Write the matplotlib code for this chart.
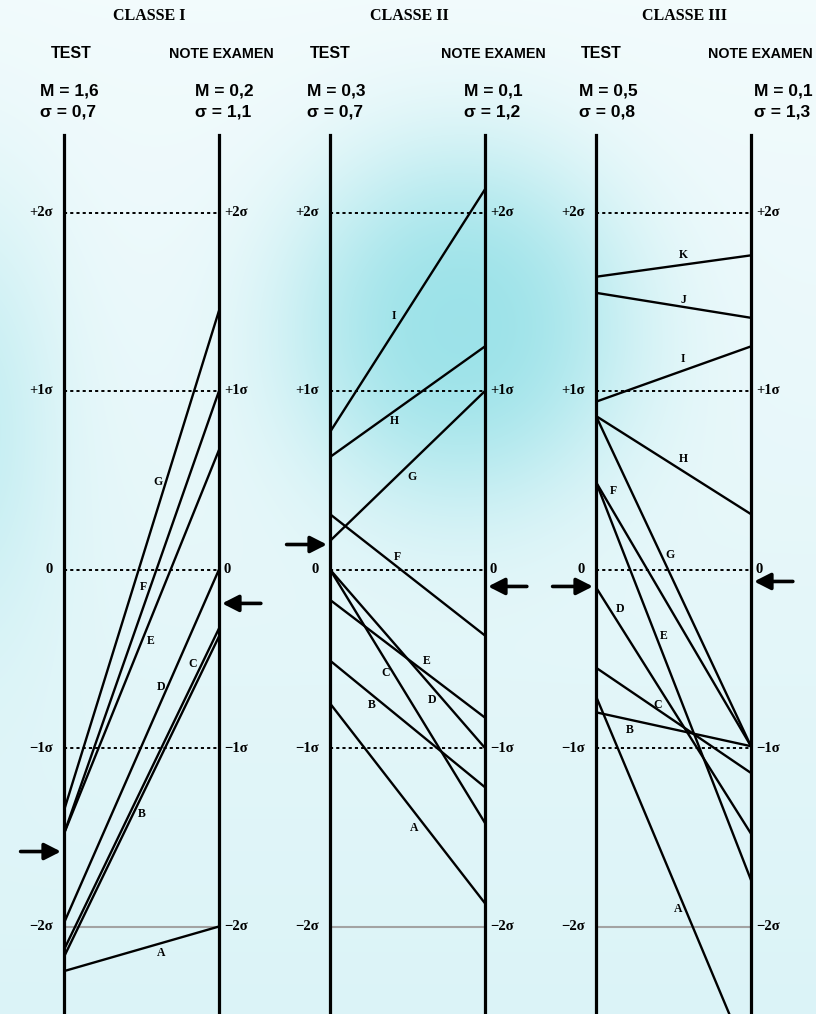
import numpy as np
import matplotlib
matplotlib.use("Agg")
import matplotlib.pyplot as plt

W, H = 816, 1014
DPI = 100

# ---- data (values in sigma units) ----
CLASSES = ["CLASSE I", "CLASSE II", "CLASSE III"]
TEST_M = ["1,6", "0,3", "0,5"]
TEST_S = ["0,7", "0,7", "0,8"]
EXAM_M = ["0,2", "0,1", "0,1"]
EXAM_S = ["1,1", "1,2", "1,3"]

LETTERS_1 = ["A", "B", "C", "D", "E", "F", "G"]
TEST_1 = [-2.25, -2.17, -2.13, -1.98, -1.48, -1.48, -1.35]
EXAM_1 = [-2.00, -0.375, -0.33, 0.0, 0.67, 1.0, 1.45]

LETTERS_2 = ["A", "B", "C", "D", "E", "F", "G", "H", "I"]
TEST_2 = [-0.75, -0.51, 0.0, 0.0, -0.17, 0.31, 0.16, 0.63, 0.77]
EXAM_2 = [-1.87, -1.22, -1.42, -1.0, -0.83, -0.37, 1.0, 1.25, 2.13]

LETTERS_3 = ["A", "B", "C", "D", "E", "F", "G", "H", "I", "J", "K"]
TEST_3 = [-0.71, -0.80, -0.55, -0.10, 0.49, 0.49, 0.86, 0.86, 0.94, 1.55, 1.64]
EXAM_3 = [-2.78, -0.99, -1.14, -1.48, -1.74, -0.99, -0.99, 0.31, 1.25, 1.41, 1.76]

# arrows on the test axis (left) and exam axis (right)
ARROW_TEST = [-1.58, 0.14, -0.095]
ARROW_EXAM = [-0.19, -0.095, -0.067]

LEVELS = [2, 1, 0, -1, -2]
LEVEL_TXT = ["+2σ", "+1σ", "0", "−1σ", "−2σ"]

# ---- layout (pixels) ----
PANEL_X = [(64, 219), (330, 485), (596, 751)]
TOP_PX = 135
ZERO_PX = 569.5
SIG_PX = 178.5

# letter positions (x along panel 0..1, y in sigma)
LABEL_POS = [
    [(0.626, -2.15), (0.503, -1.37), (0.832, -0.53), (0.626, -0.66),
     (0.561, -0.40), (0.510, -0.10), (0.606, 0.49)],
    [(0.542, -1.45), (0.271, -0.76), (0.361, -0.58), (0.658, -0.73),
     (0.626, -0.51), (0.432, 0.07), (0.529, 0.52), (0.413, 0.83),
     (0.413, 1.42)],
    [(0.529, -1.90), (0.219, -0.90), (0.400, -0.76), (0.155, -0.22),
     (0.439, -0.37), (0.110, 0.44), (0.477, 0.08), (0.561, 0.62),
     (0.561, 1.18), (0.561, 1.51), (0.561, 1.76)],
]
HEAD_TEST_X = [71, 330, 601]
HEAD_EXAM_X = [221, 493, 760]
STAT_TEST_X = [40, 307, 579]
STAT_EXAM_X = [195, 464, 754]
CLASS_X = [149, 409, 684]

SERIF = ["Liberation Serif", "DejaVu Serif"]
SANS = ["Liberation Sans", "DejaVu Sans"]

fig = plt.figure(figsize=(W / DPI, H / DPI), dpi=DPI)

# background: pale cyan wash with a soft glow behind the middle panel
bg = fig.add_axes([0, 0, 1, 1], zorder=-10)
yy, xx = np.mgrid[0:H, 0:W].astype(float)
top = np.array([0.95, 0.985, 0.99])
bot = np.array([0.86, 0.955, 0.97])
f = (yy / H)[..., None]
img = top * (1 - f) + bot * f
glow_c = np.array([0.60, 0.885, 0.91])
d2 = ((xx - 460) / 205) ** 2 + ((yy - 325) / 215) ** 2
g = (np.exp(-d2 ** 1.3 * 1.6))[..., None] * 0.95
img = img * (1 - g) + glow_c * g
g2 = np.exp(-(((xx + 30) / 90) ** 2 + ((yy - 420) / 220) ** 2))[..., None] * 0.45
img = img * (1 - g2) + glow_c * g2
bg.imshow(np.clip(img, 0, 1), aspect="auto", extent=[0, W, H, 0])
bg.axis("off")

y_lo = (ZERO_PX - H) / SIG_PX
y_hi = (ZERO_PX - TOP_PX) / SIG_PX

panels = [(LETTERS_1, TEST_1, EXAM_1), (LETTERS_2, TEST_2, EXAM_2),
          (LETTERS_3, TEST_3, EXAM_3)]

for k, (letters, test, exam) in enumerate(panels):
    l, r = PANEL_X[k]
    ax = fig.add_axes([l / W, 0, (r - l) / W, (H - TOP_PX) / H])
    ax.set_facecolor("none")
    ax.set_xlim(0, 1)
    ax.set_ylim(y_lo, y_hi)
    ax.set_xticks([])
    ax.set_yticks([])
    for s in ("top", "bottom"):
        ax.spines[s].set_visible(False)
    for s in ("left", "right"):
        ax.spines[s].set_linewidth(2.3)
        ax.spines[s].set_color("black")

    for lev, txt in zip(LEVELS, LEVEL_TXT):
        if lev == -2:
            ax.plot([0, 1], [lev, lev], color="#a3a3a3", lw=1.5, zorder=1)
        else:
            ax.plot([0, 1], [lev, lev], color="black", lw=1.4,
                    linestyle=(0, (1.6, 1.6)), zorder=1)
        ax.annotate(txt, (0, lev), xytext=(-8, 0), textcoords="offset points",
                    ha="right", va="center", fontsize=10.5, family=SERIF,
                    fontweight="bold", annotation_clip=False)
        ax.annotate(txt, (1, lev), xytext=(3.5, 0), textcoords="offset points",
                    ha="left", va="center", fontsize=10.5, family=SERIF,
                    fontweight="bold", annotation_clip=False)

    for a, b in zip(test, exam):
        ax.plot([0, 1], [a, b], color="black", lw=1.7, zorder=3,
                solid_capstyle="butt")
    for name, (lx, ly) in zip(letters, LABEL_POS[k]):
        ax.text(lx, ly, name, ha="center", va="center", fontsize=8.5,
                family=SERIF, fontweight="bold", zorder=4)

    arrow = dict(arrowstyle="-|>,head_length=0.55,head_width=0.28", lw=2.6,
                 color="black", shrinkA=0, shrinkB=0, mutation_scale=18)
    ax.annotate("", xy=(-0.02, ARROW_TEST[k]), xytext=(-0.28, ARROW_TEST[k]),
                arrowprops=arrow, annotation_clip=False)
    ax.annotate("", xy=(1.02, ARROW_EXAM[k]), xytext=(1.27, ARROW_EXAM[k]),
                arrowprops=arrow, annotation_clip=False)

    # headers
    fig.text(CLASS_X[k] / W, 1 - 16 / H, CLASSES[k], ha="center", va="center",
             fontsize=11.5, family=SERIF, fontweight="bold")
    fig.text(HEAD_TEST_X[k] / W, 1 - 54 / H, "TEST", ha="center", va="center",
             fontsize=11.5, family=SANS, fontweight="bold")
    fig.text(HEAD_EXAM_X[k] / W, 1 - 54 / H, "NOTE EXAMEN", ha="center",
             va="center", fontsize=10.3, family=SANS, fontweight="bold")
    fig.text(STAT_TEST_X[k] / W, 1 - 91 / H, f"M = {TEST_M[k]}", ha="left",
             va="center", fontsize=12.5, family=SANS, fontweight="bold")
    fig.text(STAT_TEST_X[k] / W, 1 - 112 / H, f"σ = {TEST_S[k]}", ha="left",
             va="center", fontsize=12.5, family=SANS, fontweight="bold")
    fig.text(STAT_EXAM_X[k] / W, 1 - 91 / H, f"M = {EXAM_M[k]}", ha="left",
             va="center", fontsize=12.5, family=SANS, fontweight="bold")
    fig.text(STAT_EXAM_X[k] / W, 1 - 112 / H, f"σ = {EXAM_S[k]}", ha="left",
             va="center", fontsize=12.5, family=SANS, fontweight="bold")

fig.savefig("out.png", dpi=DPI)
